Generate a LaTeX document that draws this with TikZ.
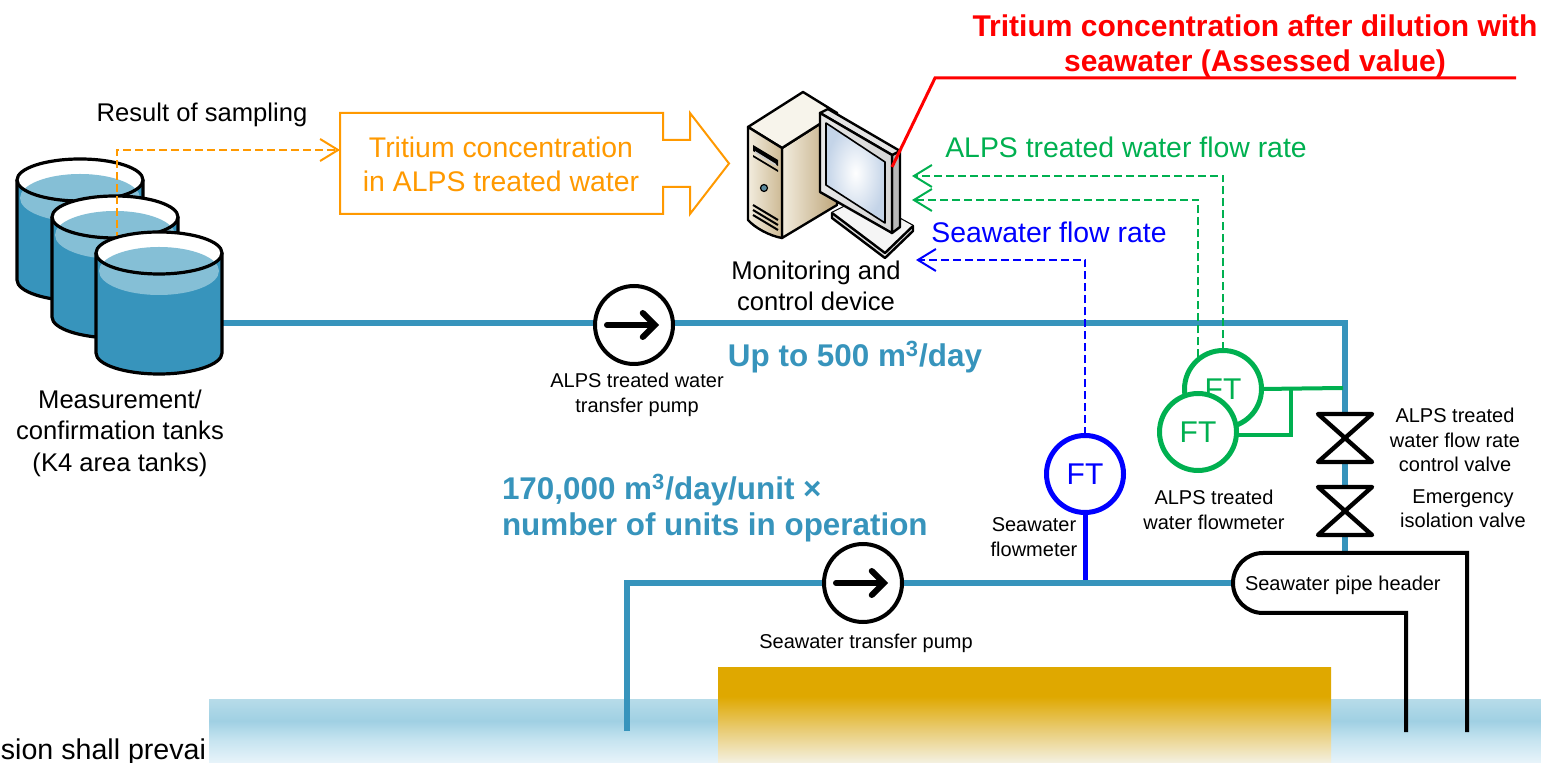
\documentclass[tikz,border=0pt]{standalone}
\usepackage{fontspec}
\setmainfont{Liberation Sans}
\usetikzlibrary{arrows.meta,calc}

\definecolor{pipeblue}{RGB}{55,148,188}
\definecolor{waterlight}{RGB}{133,191,214}
\definecolor{orangeline}{RGB}{255,153,0}
\definecolor{meterGreen}{RGB}{0,176,80}
\definecolor{meterBlue}{RGB}{0,0,255}
\definecolor{alertRed}{RGB}{255,0,0}
\definecolor{seaTop}{RGB}{183,220,233}
\definecolor{seaMid}{RGB}{160,208,227}
\definecolor{seaLow}{RGB}{198,228,240}
\definecolor{seaBot}{RGB}{232,244,250}
\definecolor{goldTop}{RGB}{223,168,0}
\definecolor{goldMid}{RGB}{233,205,120}
\definecolor{goldBot}{RGB}{244,241,226}
\definecolor{towerLight}{RGB}{242,236,222}
\definecolor{towerDark}{RGB}{205,185,148}
\definecolor{towerSide}{RGB}{190,166,122}
\definecolor{frameGrey}{RGB}{214,214,214}
\definecolor{screenBlue}{RGB}{196,212,232}

\pgfdeclareverticalshading{seafade}{100bp}{color(0bp)=(seaBot); color(25bp)=(seaBot); color(43bp)=(seaLow); color(58bp)=(seaMid); color(75bp)=(seaTop); color(100bp)=(seaTop)}
\pgfdeclareverticalshading{goldfade}{100bp}{color(0bp)=(goldBot); color(25bp)=(goldBot); color(42bp)=(goldMid); color(60bp)=(goldTop); color(100bp)=(goldTop)}

\pgfdeclarelayer{bg}
\pgfsetlayers{bg,main}

\tikzset{
  tankpic/.pic={
    \fill[pipeblue] (-63,0) -- (-63,100) arc[start angle=180,end angle=0,x radius=63,y radius=21] -- (63,0) -- cycle;
    \fill[white] (0,0) ellipse[x radius=63,y radius=21];
    \begin{scope}
      \clip (-63,0) arc[start angle=180,end angle=360,x radius=63,y radius=21]
        -- (63,100) arc[start angle=0,end angle=180,x radius=63,y radius=21] -- cycle;
      \fill[waterlight] (0,18) ellipse[x radius=60,y radius=24];
    \end{scope}
    \draw[line width=1.6pt] (0,0) ellipse[x radius=63,y radius=21];
    \draw[line width=1.6pt,line join=round] (-63,0) -- (-63,100)
      arc[start angle=180,end angle=0,x radius=63,y radius=21] -- (63,0);
  },
  valvepic/.pic={
    \draw[line width=2.2pt,line join=round,fill=white]
      (-27,-24) -- (27,-24) -- (-27,24) -- (27,24) -- cycle;
  }
}

\begin{document}
\begin{tikzpicture}[x=0.5pt,y=-0.5pt,
  every node/.style={inner sep=0pt,outer sep=0pt},
  labelL/.style={font=\fontsize{12.8}{15.7}\selectfont,align=center},
  labelS/.style={font=\fontsize{10}{12.2}\selectfont,align=center},
  bigcol/.style={font=\fontsize{14.2}{17}\selectfont,align=center},
  boldteal/.style={font=\bfseries\fontsize{15.7}{18}\selectfont,text=pipeblue,align=left},
  pipeline/.style={draw=pipeblue,line width=2.9pt},
  sigdash/.style={line width=1pt,dash pattern=on 4pt off 2pt,-{Straight Barb[length=9pt,width=11pt]}},
  meter/.style={circle,draw,line width=2.5pt,fill=white,minimum size=38.5pt,font=\fontsize{15}{18}\selectfont},
  pumpcircle/.style={circle,draw=black,line width=2pt,fill=white,minimum size=39pt},
  pumparrow/.style={line width=3pt,line cap=round,-{Straight Barb[length=6pt,width=12pt,line cap=round]}},
  greenlink/.style={draw=meterGreen,line width=2pt},
  headerline/.style={draw=black,line width=2pt,line join=miter}
]
\useasboundingbox (0,0) rectangle (1541,763);

% ---------- fixed points ----------
\coordinate (tankOut) at (220,323);
\coordinate (bendA) at (1345,323);
\coordinate (hdrTop) at (1345,553);
\coordinate (seaIn) at (627,731);
\coordinate (bendB) at (627,583);
\coordinate (hdrLeft) at (1233,583);
\coordinate (v1) at (1345,438);
\coordinate (v2) at (1345,511);
\coordinate (gJoin) at (1291,388);
\coordinate (gPipe) at (1343,388);
\coordinate (pcA) at (912,176);
\coordinate (pcB) at (912,200);
\coordinate (pcC) at (916,260);
\coordinate (pcScreen) at (892,167);
\coordinate (redKnee) at (935,78);
\coordinate (redEnd) at (1516,78);
\coordinate (sampleTap) at (117,240);
\coordinate (concBox) at (340,150);

% ---------- texts ----------
\node[font=\bfseries\fontsize{15}{17.5}\selectfont,text=alertRed,align=center] (title) at (1255,46)
  {Tritium concentration after dilution with\\seawater (Assessed value)};
\node[labelL] (sampling) at (202,115) {Result of sampling};
\node[bigcol,text=orangeline] (conc) at (501,164) {Tritium concentration\\in ALPS treated water};
\node[bigcol,text=meterGreen] (gflow) at (1126,147) {ALPS treated water flow rate};
\node[bigcol,text=meterBlue] (bflow) at (1049,232) {Seawater flow rate};
\node[labelL] (pclbl) at (816,286) {Monitoring and\\control device};
\node[labelL] (tanklbl) at (120,433) {Measurement/\\confirmation tanks\\(K4 area tanks)};
\node[boldteal] (up500) at (855,357) {Up to 500 m\textsuperscript{3}/day};
\node[boldteal,anchor=north west] (units) at (502,474) {170,000 m\textsuperscript{3}/day/unit ×\\number of units in operation};
\node[labelS] (pump1lbl) at (637,395) {ALPS treated water\\transfer pump};
\node[labelS] (pump2lbl) at (866,643) {Seawater transfer pump};
\node[labelS] (seaFTlbl) at (1034,537) {Seawater\\flowmeter};
\node[labelS] (alpsFTlbl) at (1214,510) {ALPS treated\\water flowmeter};
\node[labelS] (v1lbl) at (1455,440) {ALPS treated\\water flow rate\\control valve};
\node[labelS] (v2lbl) at (1463,509) {Emergency\\isolation valve};
\node[font=\fontsize{14.3}{16}\selectfont,anchor=base east] (footer) at (206,759) {sion shall prevai};

% ---------- instruments and pumps ----------
\node[meter,draw=meterBlue,text=meterBlue] (seaFT) at (1085,474) {FT};
\node[meter,draw=meterGreen,text=meterGreen] (backFT) at (1223,389) {FT};
\node[meter,draw=meterGreen,text=meterGreen] (frontFT) at (1198,432) {FT};
\node[pumpcircle] (pump1) at (634,325) {};
\node[pumpcircle] (pump2) at (863,583) {};
\draw[pumparrow] ([xshift=-13.5pt]pump1.center) -- ([xshift=12.5pt]pump1.center);
\draw[pumparrow] ([xshift=-13.5pt]pump2.center) -- ([xshift=12.5pt]pump2.center);

% ---------- sea, quay and pipes (behind) ----------
\begin{pgfonlayer}{bg}
  \shade[shading=seafade] (209,699) rectangle (1541,763);
  \shade[shading=goldfade] (718,668) rectangle (1331,763);
  \draw[meterBlue,line width=2.5pt] (seaFT.south) -- (seaFT.south |- bendB);
  \draw[pipeline] (tankOut) -- (bendA) -- (hdrTop);
  \draw[pipeline] (seaIn) -- (bendB) -- (hdrLeft);
  \draw[sigdash,meterGreen] (backFT.north) |- (pcA);
  \draw[sigdash,meterGreen] (frontFT.north) |- (pcB);
  \draw[sigdash,meterBlue] (seaFT.north) |- (pcC);
\end{pgfonlayer}

% ---------- flowmeter taps ----------
\draw[greenlink] (backFT.east) -- (gPipe);
\draw[greenlink] (frontFT.-5) -| (gJoin);

% ---------- valves ----------
\pic at (v1) {valvepic};
\pic at (v2) {valvepic};

% ---------- seawater pipe header ----------
\draw[headerline] (1467,732) -- (1467,553) -- (1263,553)
  arc[start angle=270,end angle=90,radius=30] -- (1406,613) -- (1406,732);
\node[labelS,anchor=west] (hdrlbl) at (1245,585) {Seawater pipe header};

% ---------- tanks ----------
\pic at (80,180) {tankpic};
\pic at (115,217) {tankpic};
\draw[sigdash,orangeline] (sampleTap) |- (concBox);
\pic at (159,253) {tankpic};

% ---------- concentration callout ----------
\draw[orangeline,line width=1pt,line join=miter]
  (340,113) -- (663,113) -- (663,140) -- (690,140) -- (690,113) -- (729,163.5)
  -- (690,214) -- (690,187) -- (663,187) -- (663,214) -- (340,214) -- cycle;

% ---------- monitoring computer ----------
\begin{scope}[line width=1.2pt,line join=round]
  % tower
  \shade[left color=towerLight,right color=towerSide,draw=black] (782,148) -- (837,113) -- (837,205) -- (782,238) -- cycle;
  \fill[towerLight!60!white,draw=black] (748,127) -- (803,92) -- (837,113) -- (782,148) -- cycle;
  \shade[left color=towerLight,right color=towerDark,draw=black] (748,127) -- (782,148) -- (782,238) .. controls (770,236) and (755,228) .. (748,220) -- cycle;
  \fill[black] (753,145) -- (778,160) -- (778,166) -- (753,151) -- cycle;
  \fill[gray!40] (755,151) -- (776,164) -- (776,166) -- (755,153) -- cycle;
  \fill[black] (753,155) -- (778,170) -- (778,172) -- (753,157) -- cycle;
  \draw[line width=0.6pt,fill=pipeblue!50!gray] (764,188) circle[radius=3.5];
  \draw[line width=1pt] (753,205) -- (778,220);
  \draw[line width=1pt] (753,210) -- (778,225);
  \draw[line width=1pt] (753,215) -- (778,230);
  % stand
  \fill[gray!25,draw=black] (832,213) -- (862,198) -- (913,226) -- (913,231) -- (885,258) -- (832,218) -- cycle;
  \fill[gray!8] (832,213) -- (862,198) -- (913,226) -- (885,253) -- cycle;
  \draw (832,213) -- (885,253) -- (913,226);
  % monitor
  \fill[gray!55,draw=black] (892,155) -- (900,151) -- (900,227) -- (892,233) -- cycle;
  \fill[gray!20,draw=black] (820,113) -- (828,109) -- (900,151) -- (892,155) -- cycle;
  \shade[left color=frameGrey!60!white,right color=frameGrey,draw=black] (820,113) -- (892,155) -- (892,233) -- (820,192) -- cycle;
  \shade[inner color=white,outer color=screenBlue,draw=black,line width=0.8pt] (826,123) -- (885,162) -- (885,223) -- (826,185) -- cycle;
\end{scope}

% ---------- assessed value leader ----------
\draw[alertRed,line width=1.5pt] (pcScreen) -- (redKnee) -- (redEnd);

\end{tikzpicture}
\end{document}
